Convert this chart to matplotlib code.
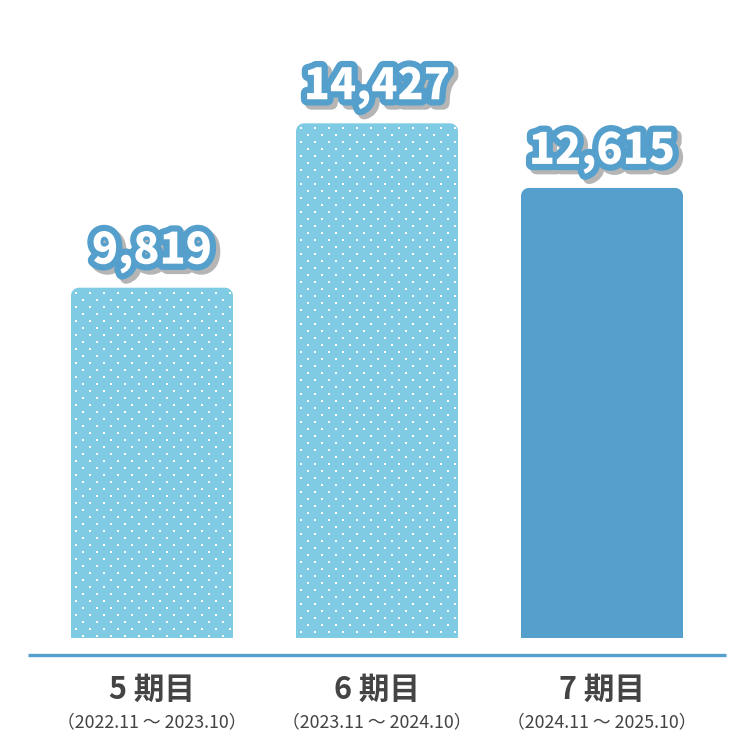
import numpy as np
import matplotlib
matplotlib.use("Agg")
import matplotlib.pyplot as plt
from matplotlib.path import Path
from matplotlib.patches import PathPatch
import matplotlib.patheffects as pe

plt.rcParams['font.family'] = ['Noto Sans CJK JP', 'DejaVu Sans']

periods = ["5 期目", "6 期目", "7 期目"]
ranges = ["（2022.11 ～ 2023.10）", "（2023.11 ～ 2024.10）", "（2024.11 ～ 2025.10）"]
values = [9819, 14427, 12615]
dotted = [True, True, False]

light_blue = "#80cbe4"
dark_blue = "#559fcc"
text_gray = "#444444"

W = 756
fig = plt.figure(figsize=(W / 100, W / 100), dpi=100)
ax = fig.add_axes([0, 0, 1, 1])
ax.set_axis_off()

# pixel -> data mapping
px_x = 1 / 225.0          # one bar spacing = 225 px
px_y = 28.03              # value units per pixel
x0 = -152 * px_x
ax.set_xlim(x0, x0 + W * px_x)
ax.set_ylim(-(W - 638) * px_y, 638 * px_y)

bar_w = 162 * px_x
rx, ry = 8 * px_x, 8 * px_y


def top_rounded(xc, h):
    l, r = xc - bar_w / 2, xc + bar_w / 2
    t = np.linspace(0, np.pi / 2, 12)
    right = np.c_[r - rx + rx * np.cos(t), h - ry + ry * np.sin(t)]
    left = np.c_[l + rx - rx * np.sin(t), h - ry + ry * np.cos(t)]
    verts = np.vstack([[l, 0], [r, 0], right, left, [l, 0]])
    codes = [Path.MOVETO] + [Path.LINETO] * (len(verts) - 2) + [Path.CLOSEPOLY]
    return Path(verts, codes)


for i, (v, d) in enumerate(zip(values, dotted)):
    patch = PathPatch(top_rounded(i, v), facecolor=light_blue if d else dark_blue,
                      edgecolor="none", zorder=2)
    ax.add_patch(patch)
    if d:
        # staggered white dot texture
        gx, gy = [], []
        rows = np.arange(0, v / px_y, 7)
        for k, yy in enumerate(rows):
            off = 0 if k % 2 == 0 else 7
            xs = np.arange(-bar_w / 2 / px_x + 5 + off, bar_w / 2 / px_x - 2, 14)
            gx.extend(i + xs * px_x)
            gy.extend([v - (5 + yy) * px_y] * len(xs))
        sc = ax.scatter(gx, gy, s=4, marker='s', c="white", linewidths=0, zorder=3)
        sc.set_clip_path(patch)

    ax.text(i, v + 14 * px_y, f"{v:,}", ha="center", va="bottom", fontsize=31,
            fontweight="black", color="white", zorder=5,
            path_effects=[pe.Stroke(linewidth=9, foreground="#b5b5b5", offset=(3, -3)),
                          pe.Stroke(linewidth=9, foreground=dark_blue),
                          pe.Normal()])

    ax.text(i, -(690 - 638) * px_y, periods[i], ha="center", va="center",
            fontsize=22, fontweight="bold", color=text_gray)
    ax.text(i, -(722 - 638) * px_y, ranges[i], ha="center", va="center",
            fontsize=12.8, color=text_gray)

ax.plot([x0 + 28 * px_x, x0 + 726 * px_x], [-17 * px_y] * 2, color=dark_blue,
        lw=2.4, solid_capstyle="butt", zorder=1)

fig.savefig("out.png", dpi=100)
